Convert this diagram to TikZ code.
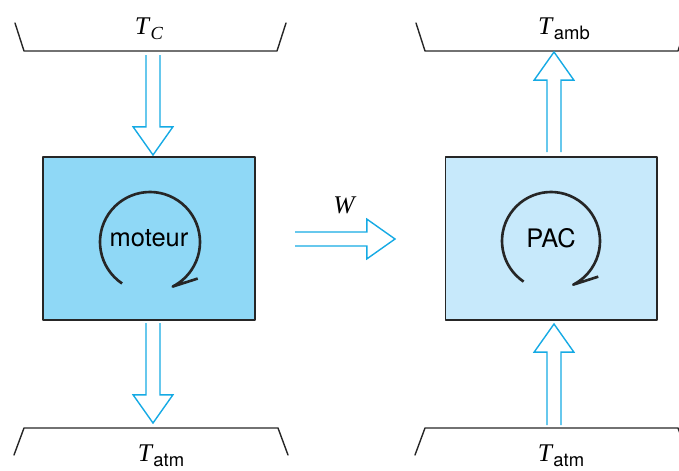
\documentclass[tikz,border=0pt]{standalone}
\usepackage{fontspec}
\setmainfont{Liberation Serif}
\setsansfont{TeX Gyre Heros}
\usetikzlibrary{calc}
\definecolor{flowblue}{RGB}{22,170,228}
\definecolor{moteurfill}{RGB}{143,216,246}
\definecolor{pacfill}{RGB}{199,233,251}
\newcommand{\Tlab}[1]{\fontsize{14.5}{17}\selectfont\textit{T}\raisebox{-2.8pt}{\fontsize{10.5}{12}\selectfont #1}}
\newcommand{\flowarrow}[2]{%
  \draw[flow] ($(#1)!4pt!90:(#2)$) -- ($(#2)!16pt!(#1)!4pt!-90:(#1)$)
    -- ($(#2)!16pt!(#1)!11.3pt!-90:(#1)$) -- (#2)
    -- ($(#2)!16pt!(#1)!11.3pt!90:(#1)$) -- ($(#2)!16pt!(#1)!4pt!90:(#1)$)
    -- ($(#1)!4pt!-90:(#2)$);}
\begin{document}
\begin{tikzpicture}[x=0.02cm,y=-0.02cm,font=\small,line cap=round,line join=round,
    reservoir/.style={line width=0.8pt,black!85},
    flow/.style={line width=0.8pt,flowblue,line cap=butt,line join=miter},
    engine/.style={draw=black!85,line width=0.6pt,minimum width=4.24cm,minimum height=3.26cm,
      inner sep=0pt,outer sep=0pt,font=\fontsize{14.5}{17}\sffamily},
    turn/.style={line width=1.5pt,black!85,line cap=butt}]
    \clip (0,0) rectangle (679,470);
    \draw[reservoir] (15,23) -- (24,51) -- (277,51) -- (286,23);
    \draw[reservoir] (416,23) -- (425,51) -- (678,51) -- (687,23);
    \draw[reservoir] (14,455) -- (24,428) -- (278,428) -- (288,455);
    \draw[reservoir] (415,455) -- (425,428) -- (678,428) -- (688,455);
    \node (tc) at (149,29) {\Tlab{\textit{C}}};
    \node (tamb) at (564,29) {\Tlab{\sffamily amb}};
    \node (tatm1) at (161,456) {\Tlab{\sffamily atm}};
    \node (tatm2) at (561,456) {\Tlab{\sffamily atm}};
    \node[engine,fill=moteurfill] (moteur) at (149,238.5) {moteur};
    \node[engine,fill=pacfill] (pac) at (551,238.5) {PAC};
    \node (w) at (345,205) {\fontsize{14.5}{17}\selectfont\textit{W}};
    \coordinate (qc-a) at (153,55);
    \coordinate (qc-b) at (153,155);
    \coordinate (qf-a) at (153,323);
    \coordinate (qf-b) at (153,423);
    \coordinate (qa-a) at (554,152);
    \coordinate (qa-b) at (554,52);
    \coordinate (qe-a) at (554,425);
    \coordinate (qe-b) at (554,324);
    \coordinate (w-a) at (295,239);
    \coordinate (w-b) at (395,239);
    \flowarrow{qc-a}{qc-b}
    \flowarrow{qf-a}{qf-b}
    \flowarrow{qa-a}{qa-b}
    \flowarrow{qe-a}{qe-b}
    \flowarrow{w-a}{w-b}
    \draw[turn] (150,242) ++(124:50) arc[start angle=124,end angle=423,radius=50] -- ++(25,-8);
    \draw[turn] (551,241) ++(124:49) arc[start angle=124,end angle=423,radius=49] -- ++(25,-8);
  \end{tikzpicture}
\end{document}
